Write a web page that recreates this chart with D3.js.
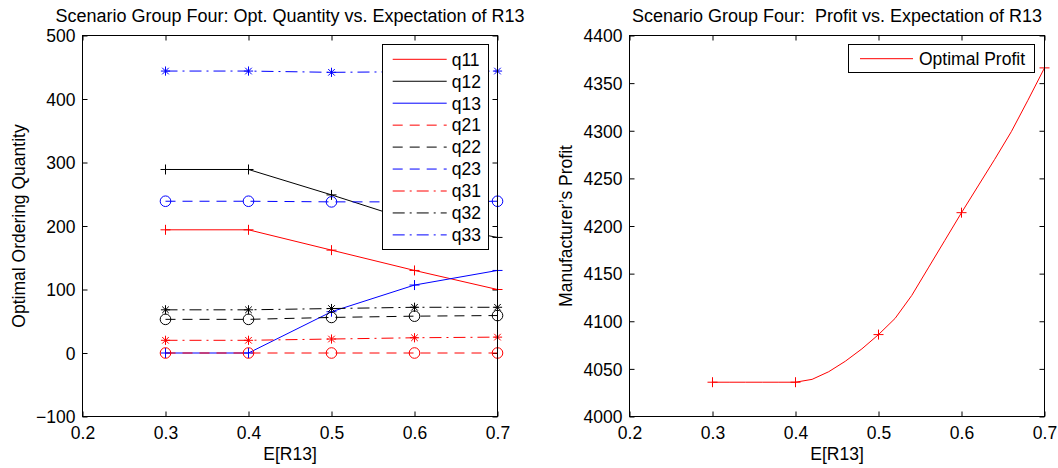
<!DOCTYPE html>
<html><head><meta charset="utf-8">
<script src="https://cdn.jsdelivr.net/npm/d3@7"></script>
<style>
html,body{margin:0;padding:0;background:#fff;}
svg{display:block;font-family:"Liberation Sans",Arial,Helvetica,sans-serif;}
text{white-space:pre;}
</style></head><body>
<svg id="chart" width="1058" height="468"></svg>
<script>
// ---------- data ----------
const eR13 = [0.3, 0.4, 0.5, 0.6, 0.7];
const q11 = [194, 194, 162, 130, 100];
const q12 = [289, 289, 249, 207, 182];
const q13 = [0, 0, 65, 107, 130];
const q21 = [0, 0, 0, 0, 0];
const q22 = [53, 53, 56, 58, 59];
const q23 = [239, 239, 238, 238, 239];
const q31 = [20, 20, 22, 24, 25];
const q32 = [68, 68, 70, 72, 72];
const q33 = [444, 444, 442, 443, 444];
const seriesNames = ["q11", "q12", "q13", "q21", "q22", "q23", "q31", "q32", "q33"];
const seriesValues = [q11, q12, q13, q21, q22, q23, q31, q32, q33];

const profitX = [0.30, 0.32, 0.34, 0.36, 0.38, 0.40, 0.42, 0.44, 0.46, 0.48, 0.50,
                 0.52, 0.54, 0.56, 0.58, 0.60, 0.62, 0.64, 0.66, 0.68, 0.70];
const profitY = [4036, 4036, 4036, 4036, 4036, 4036, 4039, 4047, 4058, 4071, 4086,
                 4103, 4127, 4156, 4185, 4214, 4242, 4270, 4299, 4332, 4366];
const profitMarkerX = [0.3, 0.4, 0.5, 0.6, 0.7];
const profitName = "Optimal Profit";

const xTicks = [0.2, 0.3, 0.4, 0.5, 0.6, 0.7];
const qTicks = [-100, 0, 100, 200, 300, 400, 500];
const profitTicks = [4000, 4050, 4100, 4150, 4200, 4250, 4300, 4350, 4400];

const leftTitle = "Scenario Group Four: Opt. Quantity vs. Expectation of R13";
const rightTitle = "Scenario Group Four:  Profit vs. Expectation of R13";
const xLabel = "E[R13]";
const leftYLabel = "Optimal Ordering Quantity";
const rightYLabel = "Manufacturer\u2019s Profit";

// ---------- styles ----------
const colors = ["#ff0000", "#000000", "#0000ff", "#ff0000", "#000000", "#0000ff", "#ff0000", "#000000", "#0000ff"];
const dashes = [null, null, null, "10,7", "10,7", "10,7", "12,5,2,5", "12,5,2,5", "12,5,2,5"];
const markers = ["plus", "plus", "plus", "circle", "circle", "circle", "star", "star", "star"];
const FS = 17.5;

const svg = d3.select("#chart");
svg.append("rect").attr("width", 1058).attr("height", 468).attr("fill", "#fff");

function markerPath(type) {
  if (type === "plus") return "M-5,0H5M0,-5V5";
  if (type === "star") { const a = 4.6, b = 3.3; return `M-${a},0H${a}M0,-${a}V${a}M-${b},-${b}L${b},${b}M-${b},${b}L${b},-${b}`; }
  return null;
}
function drawMarker(g, type, x, y, color) {
  if (type === "circle") {
    g.append("circle").attr("cx", x).attr("cy", y).attr("r", 5.3)
      .attr("fill", "none").attr("stroke", color).attr("stroke-width", 1);
  } else {
    g.append("path").attr("d", markerPath(type)).attr("transform", `translate(${x},${y})`)
      .attr("fill", "none").attr("stroke", color).attr("stroke-width", 1);
  }
}

function makeAxes(x0, x1, y0, y1, yDomain, yTickVals, title, ylab) {
  const g = svg.append("g");
  const x = d3.scaleLinear().domain([0.2, 0.7]).range([x0, x1]);
  const y = d3.scaleLinear().domain(yDomain).range([y1, y0]);
  g.append("rect").attr("x", x0).attr("y", y0).attr("width", x1 - x0).attr("height", y1 - y0)
    .attr("fill", "#fff");
  const styleAxis = sel => {
    sel.select(".domain").remove();
    sel.selectAll("line").attr("stroke", "#000").attr("stroke-width", 1);
    sel.selectAll("text").attr("fill", "#000").style("font-size", FS + "px");
  };
  g.append("g").attr("transform", `translate(0,${y1})`)
    .call(d3.axisBottom(x).tickValues(xTicks).tickFormat(d3.format(".1f")).tickSizeInner(-5).tickSizeOuter(0).tickPadding(9.6))
    .call(styleAxis);
  g.append("g").attr("transform", `translate(0,${y0})`)
    .call(d3.axisTop(x).tickValues(xTicks).tickFormat("").tickSizeInner(-5).tickSizeOuter(0))
    .call(styleAxis);
  g.append("g").attr("transform", `translate(${x0},0)`)
    .call(d3.axisLeft(y).tickValues(yTickVals).tickFormat(d3.format("d")).tickSizeInner(-5).tickSizeOuter(0).tickPadding(7))
    .call(styleAxis)
    .selectAll("text").attr("dy", "0.36em");
  g.append("g").attr("transform", `translate(${x1},0)`)
    .call(d3.axisRight(y).tickValues(yTickVals).tickFormat("").tickSizeInner(-5).tickSizeOuter(0))
    .call(styleAxis);
  g.append("text").attr("x", (x0 + x1) / 2).attr("y", 21.5).attr("text-anchor", "middle")
    .attr("xml:space", "preserve")
    .style("font-size", "18px").attr("fill", "#000").text(title);
  g.append("text").attr("x", (x0 + x1) / 2).attr("y", 459.5).attr("text-anchor", "middle")
    .style("font-size", FS + "px").attr("fill", "#000").text(xLabel);
  g.append("text").attr("transform", `translate(${x0 - 58},${(y0 + y1) / 2}) rotate(-90)`)
    .attr("text-anchor", "middle").style("font-size", FS + "px").attr("fill", "#000").text(ylab);
  return { g, x, y };
}

// ---------- left chart ----------
const L = makeAxes(82.5, 497.5, 35.5, 416.5, [-100, 500], qTicks, leftTitle, leftYLabel);
const dataG = L.g.append("g");
seriesValues.forEach((vals, i) => {
  const pts = eR13.map((xv, j) => [L.x(xv), L.y(vals[j])]);
  dataG.append("path").attr("d", d3.line()(pts)).attr("fill", "none")
    .attr("stroke", colors[i]).attr("stroke-width", 1)
    .attr("stroke-dasharray", dashes[i]);
});
seriesValues.forEach((vals, i) => {
  eR13.forEach((xv, j) => drawMarker(dataG, markers[i], L.x(xv), L.y(vals[j]), colors[i]));
});
// frame
L.g.append("rect").attr("x", 82.5).attr("y", 35.5).attr("width", 415).attr("height", 381)
  .attr("fill", "none").attr("stroke", "#000").attr("stroke-width", 1);
// legend
const lg = L.g.append("g");
lg.append("rect").attr("x", 382.5).attr("y", 44.5).attr("width", 106).attr("height", 205)
  .attr("fill", "#fff").attr("stroke", "#000").attr("stroke-width", 1);
seriesNames.forEach((nm, i) => {
  const yy = 59.3 + i * 21.95;
  lg.append("line").attr("x1", 392.7).attr("x2", 446.7).attr("y1", yy).attr("y2", yy)
    .attr("stroke", colors[i]).attr("stroke-width", 1).attr("stroke-dasharray", dashes[i]);
  lg.append("text").attr("x", 451.7).attr("y", yy).attr("dy", "0.36em")
    .style("font-size", FS + "px").attr("fill", "#000").text(nm);
});

// ---------- right chart ----------
const R = makeAxes(629.5, 1044.5, 35.5, 416.5, [4000, 4400], profitTicks, rightTitle, rightYLabel);
const pG = R.g.append("g");
pG.append("path").attr("d", d3.line().x(d => R.x(d[0])).y(d => R.y(d[1]))(profitX.map((xv, j) => [xv, profitY[j]])))
  .attr("fill", "none").attr("stroke", "#ff0000").attr("stroke-width", 1);
profitX.forEach((xv, j) => {
  if (profitMarkerX.some(m => Math.abs(m - xv) < 1e-9)) drawMarker(pG, "plus", R.x(xv), R.y(profitY[j]), "#ff0000");
});
R.g.append("rect").attr("x", 629.5).attr("y", 35.5).attr("width", 415).attr("height", 381)
  .attr("fill", "none").attr("stroke", "#000").attr("stroke-width", 1);
const rl = R.g.append("g");
rl.append("rect").attr("x", 848.5).attr("y", 44.5).attr("width", 186).attr("height", 28)
  .attr("fill", "#fff").attr("stroke", "#000").attr("stroke-width", 1);
rl.append("line").attr("x1", 860).attr("x2", 913).attr("y1", 58.7).attr("y2", 58.7)
  .attr("stroke", "#ff0000").attr("stroke-width", 1);
rl.append("text").attr("x", 919).attr("y", 58.7).attr("dy", "0.36em")
  .style("font-size", FS + "px").attr("fill", "#000").text(profitName);
</script>
</body></html>
